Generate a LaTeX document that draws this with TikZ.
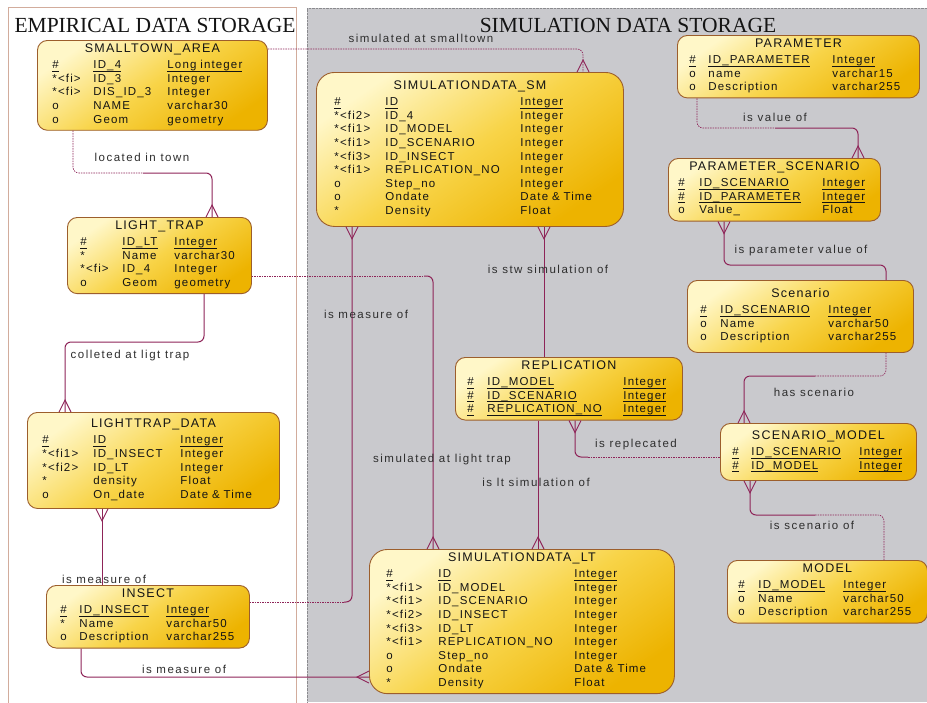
\documentclass[tikz,border=0pt]{standalone}
\usepackage{fontspec}
\usepackage{array}
\setmainfont{Liberation Serif}
\newfontfamily\entfont[LetterSpace=10]{Liberation Sans}
\newfontfamily\lblfont[LetterSpace=13]{Liberation Sans}
\usetikzlibrary{calc,decorations.markings}
\setlength{\tabcolsep}{0pt}
\definecolor{relcol}{HTML}{8E2458}
\definecolor{entborder}{HTML}{9C5E2C}
\definecolor{ylight}{HTML}{FFF7C8}
\definecolor{ymid}{HTML}{F8D448}
\definecolor{ydark}{HTML}{EDB300}
\definecolor{simgray}{HTML}{C9C9CD}
\definecolor{simedge}{HTML}{8A8A8E}
\definecolor{empedge}{HTML}{D2AC9C}
\definecolor{txtcol}{HTML}{141414}
\definecolor{lblcol}{HTML}{2E2E2E}
\newcommand{\etitle}[1]{\centerline{\fontsize{12.5}{13.6}\selectfont #1}\vspace{3pt}\noindent}
\newcommand{\pk}[1]{\setbox0=\hbox{#1}\rlap{\rule[-2.6pt]{\wd0}{0.5pt}}\box0}
\tikzset{
	entity/.style={draw=entborder,line width=0.9pt,rounded corners=10pt,anchor=north west,
		top color=ylight,bottom color=ydark,middle color=ymid,shading angle=35,
		text=txtcol,align=left,inner ysep=3pt,font=\entfont\fontsize{11.5}{13.6}\selectfont},
	rel/.style={draw=relcol,line width=1pt,rounded corners=6pt},
	opt/.style={rel,line width=0.6pt,dash pattern=on 1.5pt off 1pt},
	crowend/.style={postaction={decorate,decoration={markings,
		mark=at position 1 with {\draw[solid,sharp corners,relcol,line width=0.9pt] (0pt,6pt) -- (-12pt,0pt) -- (0pt,-6pt);}}}},
	crowstart/.style={postaction={decorate,decoration={markings,
		mark=at position 0 with {\draw[solid,sharp corners,relcol,line width=0.9pt] (0pt,6pt) -- (12pt,0pt) -- (0pt,-6pt);}}}},
	rlabel/.style={font=\lblfont\fontsize{11.5}{13}\selectfont,text=lblcol,inner sep=0pt,text height=8.5pt,text depth=0pt},
	frametitle/.style={font=\fontsize{21.5}{24}\selectfont,text=txtcol,inner sep=0pt}
}

\begin{document}
\begin{tikzpicture}[x=1pt,y=-1pt]
	\useasboundingbox (0,0) rectangle (927,702);
	% storage areas
	\fill[simgray] (307,8) rectangle (927,702);
	\draw[simedge,densely dotted] (307,702) -- (307,8) -- (927,8);
	\draw[empedge,fill=white] (8,7) rectangle (296,706);
	\node[frametitle] (emptitle) at (155,25) {EMPIRICAL DATA STORAGE};
	\node[frametitle] (simtitle) at (628,25) {SIMULATION DATA STORAGE};

	% entities
	\node[entity,text width=200pt,inner xsep=15pt,minimum height=88] (sta) at (37,40) {%
		\etitle{SMALLTOWN\_AREA}
		\begin{tabular}[t]{w{l}{41pt}w{l}{74pt}l}
			\pk{\#} & \pk{ID\_4} & \pk{Long integer}\\
			{*}<fi> & ID\_3 & Integer\\
			{*}<fi> & DIS\_ID\_3 & Integer\\
			o & NAME & varchar30\\
			o & Geom & geometry
		\end{tabular}};
	\node[entity,text width=158pt,inner xsep=13pt,minimum height=75] (ltrap) at (67,217) {%
		\etitle{LIGHT\_TRAP}
		\begin{tabular}[t]{w{l}{42pt}w{l}{52pt}l}
			\pk{\#} & \pk{ID\_LT} & \pk{Integer}\\
			{*} & Name & varchar30\\
			{*}<fi> & ID\_4 & Integer\\
			o & Geom & geometry
		\end{tabular}};
	\node[entity,text width=222pt,inner xsep=15pt,minimum height=96] (ltdata) at (27,412) {%
		\etitle{LIGHTTRAP\_DATA}
		\begin{tabular}[t]{w{l}{51pt}w{l}{87pt}l}
			\pk{\#} & \pk{ID} & \pk{Integer}\\
			{*}<fi1> & ID\_INSECT & Integer\\
			{*}<fi2> & ID\_LT & Integer\\
			{*} & density & Float\\
			o & On\_date & Date \& Time
		\end{tabular}};
	\node[entity,text width=175pt,inner xsep=14pt,minimum height=61] (insect) at (46,585) {%
		\etitle{INSECT}
		\begin{tabular}[t]{w{l}{19pt}w{l}{87pt}l}
			\pk{\#} & \pk{ID\_INSECT} & \pk{Integer}\\
			{*} & Name & varchar50\\
			o & Description & varchar255
		\end{tabular}};
	\node[entity,rounded corners=18pt,text width=271pt,inner xsep=18pt,minimum height=154] (simsm) at (316,72) {%
		\etitle{SIMULATIONDATA\_SM}
		\begin{tabular}[t]{w{l}{51pt}w{l}{135pt}l}
			\pk{\#} & \pk{ID} & \pk{Integer}\\
			{*}<fi2> & ID\_4 & Integer\\
			{*}<fi1> & ID\_MODEL & Integer\\
			{*}<fi1> & ID\_SCENARIO & Integer\\
			{*}<fi3> & ID\_INSECT & Integer\\
			{*}<fi1> & REPLICATION\_NO & Integer\\
			o & Step\_no & Integer\\
			o & Ondate & Date \& Time\\
			{*} & Density & Float
		\end{tabular}};
	\node[entity,text width=218pt,inner xsep=12pt,minimum height=60] (param) at (677,35) {%
		\etitle{PARAMETER}
		\begin{tabular}[t]{w{l}{19pt}w{l}{124pt}l}
			\pk{\#} & \pk{ID\_PARAMETER} & \pk{Integer}\\
			o & name & varchar15\\
			o & Description & varchar255
		\end{tabular}};
	\node[entity,text width=192pt,inner xsep=10pt,minimum height=61] (parsc) at (668,158) {%
		\etitle{PARAMETER\_SCENARIO}
		\begin{tabular}[t]{w{l}{21pt}w{l}{123pt}l}
			\pk{\#} & \pk{ID\_SCENARIO} & \pk{Integer}\\
			\pk{\#} & \pk{ID\_PARAMETER} & \pk{Integer}\\
			o & Value\_ & Float
		\end{tabular}};
	\node[entity,text width=200pt,inner xsep=13pt,minimum height=72] (scen) at (687,280) {%
		\etitle{Scenario}
		\begin{tabular}[t]{w{l}{20pt}w{l}{108pt}l}
			\pk{\#} & \pk{ID\_SCENARIO} & \pk{Integer}\\
			o & Name & varchar50\\
			o & Description & varchar255
		\end{tabular}};
	\node[entity,text width=203pt,inner xsep=12pt,minimum height=60] (repl) at (455,357) {%
		\etitle{REPLICATION}
		\begin{tabular}[t]{w{l}{20pt}w{l}{136pt}l}
			\pk{\#} & \pk{ID\_MODEL} & \pk{Integer}\\
			\pk{\#} & \pk{ID\_SCENARIO} & \pk{Integer}\\
			\pk{\#} & \pk{REPLICATION\_NO} & \pk{Integer}
		\end{tabular}};
	\node[entity,text width=172pt,inner xsep=12pt,minimum height=57] (scmod) at (720,423) {%
		\etitle{SCENARIO\_MODEL}
		\begin{tabular}[t]{w{l}{19pt}w{l}{108pt}l}
			\pk{\#} & \pk{ID\_SCENARIO} & \pk{Integer}\\
			\pk{\#} & \pk{ID\_MODEL} & \pk{Integer}
		\end{tabular}};
	\node[entity,text width=178pt,inner xsep=11pt,minimum height=60] (model) at (727,560) {%
		\etitle{MODEL}
		\begin{tabular}[t]{w{l}{20pt}w{l}{85pt}l}
			\pk{\#} & \pk{ID\_MODEL} & \pk{Integer}\\
			o & Name & varchar50\\
			o & Description & varchar255
		\end{tabular}};
	\node[entity,rounded corners=18pt,text width=271pt,inner xsep=17pt,minimum height=141] (simlt) at (369,549) {%
		\etitle{SIMULATIONDATA\_LT}
		\begin{tabular}[t]{w{l}{52pt}w{l}{136pt}l}
			\pk{\#} & \pk{ID} & \pk{Integer}\\
			{*}<fi1> & ID\_MODEL & Integer\\
			{*}<fi1> & ID\_SCENARIO & Integer\\
			{*}<fi2> & ID\_INSECT & Integer\\
			{*}<fi3> & ID\_LT & Integer\\
			{*}<fi1> & REPLICATION\_NO & Integer\\
			o & Step\_no & Integer\\
			o & Ondate & Date \& Time\\
			{*} & Density & Float
		\end{tabular}};

	% relations
	\draw[opt,crowend] ($(sta.north east)+(0,9)$) -| ($(simsm.north west)+(267,0)$);
	\coordinate (m2) at (143,173);
	\draw[opt] ($(sta.south west)+(36,0)$) |- (m2);
	\draw[rel,crowend] (m2) -| ($(ltrap.north west)+(145,0)$);
	\coordinate (m3) at (134,342);
	\draw[rel,crowend] ($(ltrap.south west)+(137,0)$) |- (m3) -| ($(ltdata.north west)+(38,0)$);
	\draw[rel,crowstart] ($(ltdata.south west)+(75,0)$) -- ($(insect.north west)+(56,0)$);
	\coordinate (m5) at (344,602);
	\draw[opt] ($(insect.north east)+(0,17)$) -- (m5);
	\draw[rel,crowend] (m5) -| ($(simsm.south west)+(36,0)$);
	\draw[rel,crowend] ($(insect.south west)+(35,0)$) |- ($(simlt.north west)+(0,128)$);
	\coordinate (m7) at (424,276);
	\draw[opt] ($(ltrap.north east)+(0,59)$) -- (m7);
	\draw[rel,crowend] (m7) -| ($(simlt.north west)+(64,0)$);
	\draw[rel,crowstart] ($(simsm.south west)+(228,0)$) -- ($(repl.north west)+(89,0)$);
	\draw[rel,crowend] ($(repl.south west)+(83,0)$) -- ($(simlt.north west)+(169,0)$);
	\coordinate (m10) at (588,457);
	\draw[rel,crowstart] ($(repl.south west)+(120,0)$) |- (m10);
	\draw[opt] (m10) -- ($(scmod.north west)+(0,34)$);
	\coordinate (m11) at (775,128);
	\draw[opt] ($(param.south west)+(20,0)$) |- (m11);
	\draw[rel,crowend] (m11) -| ($(parsc.north west)+(190,0)$);
	\coordinate (m12) at (805,265);
	\draw[rel,crowstart] ($(parsc.south west)+(56,0)$) |- (m12) -| ($(scen.north west)+(199,0)$);
	\coordinate (m13) at (815,376);
	\draw[opt] ($(scen.south west)+(199,0)$) |- (m13);
	\draw[rel,crowend] (m13) -| ($(scmod.north west)+(24,0)$);
	\coordinate (m14) at (815,515);
	\draw[rel,crowstart] ($(scmod.south west)+(30,0)$) |- (m14);
	\draw[opt] (m14) -| ($(model.north west)+(157,0)$);

	% relation names
	\node[rlabel] (lsmall) at (421,38) {simulated at smalltown};
	\node[rlabel] (ltown) at (142,157) {located in town};
	\node[rlabel] (lcoll) at (130,354) {colleted at ligt trap};
	\node[rlabel] (lmeas1) at (104,579) {is measure of};
	\node[rlabel] (lmeas2) at (366,314) {is measure of};
	\node[rlabel] (lmeas3) at (184,669) {is measure of};
	\node[rlabel] (lsimlt) at (442,458) {simulated at light trap};
	\node[rlabel] (lstw) at (548,269) {is stw simulation of};
	\node[rlabel] (llt) at (536,482) {is lt simulation of};
	\node[rlabel] (lrepl) at (636,443) {is replecated};
	\node[rlabel] (lvalue) at (775,117) {is value of};
	\node[rlabel] (lparval) at (801,249) {is parameter value of};
	\node[rlabel] (lhas) at (814,392) {has scenario};
	\node[rlabel] (lscof) at (812,525) {is scenario of};
\end{tikzpicture}
\end{document}
